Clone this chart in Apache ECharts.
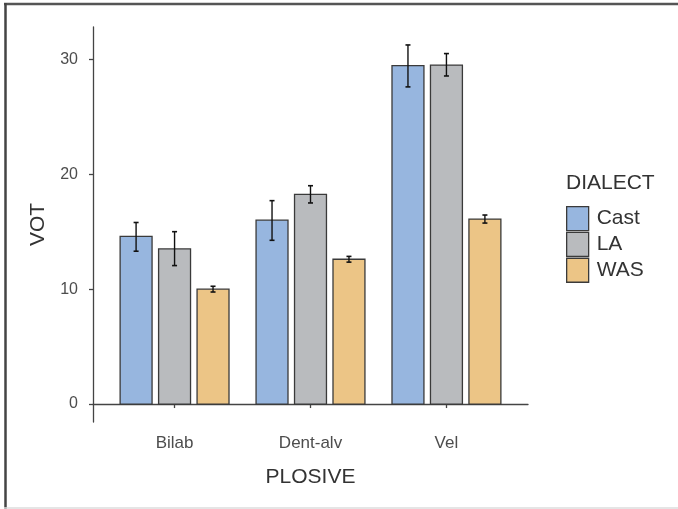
<!DOCTYPE html>
<html>
<head>
<meta charset="utf-8">
<script src="https://cdn.jsdelivr.net/npm/echarts@6/dist/echarts.min.js"></script>
<style>html,body{margin:0;padding:0;background:#fff}#c{width:678px;height:509px}</style>
</head>
<body>
<div id="c"></div>
<script>
const categories = ['Bilab', 'Dent-alv', 'Vel'];
const dialects = ['Cast', 'LA', 'WAS'];
const castMean = [14.6, 16.0, 29.45];
const castLow = [13.3, 14.25, 27.6];
const castHigh = [15.8, 17.7, 31.25];
const laMean = [13.5, 18.25, 29.5];
const laLow = [12.05, 17.5, 28.55];
const laHigh = [15.0, 19.0, 30.5];
const wasMean = [10.0, 12.6, 16.1];
const wasLow = [9.75, 12.35, 15.75];
const wasHigh = [10.25, 12.85, 16.45];
const yTicks = [0, 10, 20, 30];

const colors = ['#97b6df', '#b9bbbe', '#ecc586'];
const offsets = [-0.283, 0, 0.283];
const barW = 0.235;
const font = 'Liberation Sans, Arial, sans-serif';

const means = [castMean, laMean, wasMean];
const lows = [castLow, laLow, wasLow];
const highs = [castHigh, laHigh, wasHigh];

let maxHi = Math.max(...highs.flat());
const yMin = -0.05 * maxHi, yMax = maxHi * 1.05;

const series = dialects.map((d, s) => ({
  type: 'custom',
  name: d,
  itemStyle: { color: colors[s], borderColor: '#3a3a3a', borderWidth: 1.2 },
  data: categories.map((c, i) => [i, means[s][i], lows[s][i], highs[s][i]]),
  renderItem: function (params, api) {
    const ci = api.value(0), v = api.value(1), lo = api.value(2), hi = api.value(3);
    const xc = ci + 1 + offsets[s];
    const pTL = api.coord([xc - barW / 2, v]);
    const pBR = api.coord([xc + barW / 2, 0]);
    const pHi = api.coord([xc, hi]);
    const pLo = api.coord([xc, lo]);
    const cap = 2.5;
    return {
      type: 'group',
      children: [
        { type: 'rect', shape: { x: pTL[0], y: pTL[1], width: pBR[0] - pTL[0], height: pBR[1] - pTL[1] },
          style: { fill: colors[s], stroke: '#3a3a3a', lineWidth: 1.3 } },
        { type: 'line', shape: { x1: pHi[0], y1: pHi[1], x2: pLo[0], y2: pLo[1] }, style: { stroke: '#111', lineWidth: 1.4 } },
        { type: 'line', shape: { x1: pHi[0] - cap, y1: pHi[1], x2: pHi[0] + cap, y2: pHi[1] }, style: { stroke: '#111', lineWidth: 1.6 } },
        { type: 'line', shape: { x1: pLo[0] - cap, y1: pLo[1], x2: pLo[0] + cap, y2: pLo[1] }, style: { stroke: '#111', lineWidth: 1.6 } }
      ]
    };
  }
}));

const chart = echarts.init(document.getElementById('c'), null, { renderer: 'canvas' });
chart.setOption({
  animation: false,
  backgroundColor: '#fff',
  textStyle: { fontFamily: font },
  grid: { left: 93, right: 150, top: 27, bottom: 87, containLabel: false },
  title: {
    text: 'DIALECT', left: 561, top: 168,
    textStyle: { fontFamily: font, fontSize: 21, fontWeight: 'normal', color: '#333' }
  },
  legend: {
    orient: 'vertical', left: 561, top: 201,
    itemWidth: 22, itemHeight: 24, itemGap: 0.5, icon: 'rect',
    itemStyle: { borderColor: '#3a3a3a', borderWidth: 1.3 },
    textStyle: { fontFamily: font, fontSize: 21, color: '#333', padding: [0, 0, 0, 3] },
    data: dialects
  },
  xAxis: {
    type: 'value', min: 0.4, max: 3.6,
    name: 'PLOSIVE', nameLocation: 'middle', nameGap: 45,
    nameTextStyle: { fontFamily: font, fontSize: 21, color: '#333' },
    axisLine: { show: true, lineStyle: { color: '#444', width: 1.3 } },
    axisTick: { show: true, length: 4, lineStyle: { color: '#444', width: 1.3 }, customValues: [1, 2, 3] },
    axisLabel: { customValues: [1, 2, 3], color: '#4d4d4d', fontSize: 17, margin: 13,
      formatter: v => categories[Math.round(v) - 1] },
    splitLine: { show: false }
  },
  yAxis: {
    type: 'value', min: yMin, max: yMax,
    name: 'VOT', nameLocation: 'middle', nameGap: 44, nameRotate: 90,
    nameTextStyle: { fontFamily: font, fontSize: 21, color: '#333' },
    axisLine: { show: true, lineStyle: { color: '#444', width: 1.3 } },
    axisTick: { show: true, length: 4, lineStyle: { color: '#444', width: 1.3 }, customValues: yTicks },
    axisLabel: { customValues: yTicks, color: '#4d4d4d', fontSize: 16, margin: 15 },
    splitLine: { show: false }
  },
  graphic: [
    { type: 'line', shape: { x1: 4, y1: 4, x2: 678, y2: 4 }, style: { stroke: '#555', lineWidth: 2.5 }, z: 100 },
    { type: 'line', shape: { x1: 5.5, y1: 3, x2: 5.5, y2: 509 }, style: { stroke: '#444', lineWidth: 2.5 }, z: 100 },
    { type: 'line', shape: { x1: 4, y1: 508, x2: 678, y2: 508 }, style: { stroke: '#ddd', lineWidth: 1.5 }, z: 100 }
  ],
  series: series
});
</script>
</body>
</html>
